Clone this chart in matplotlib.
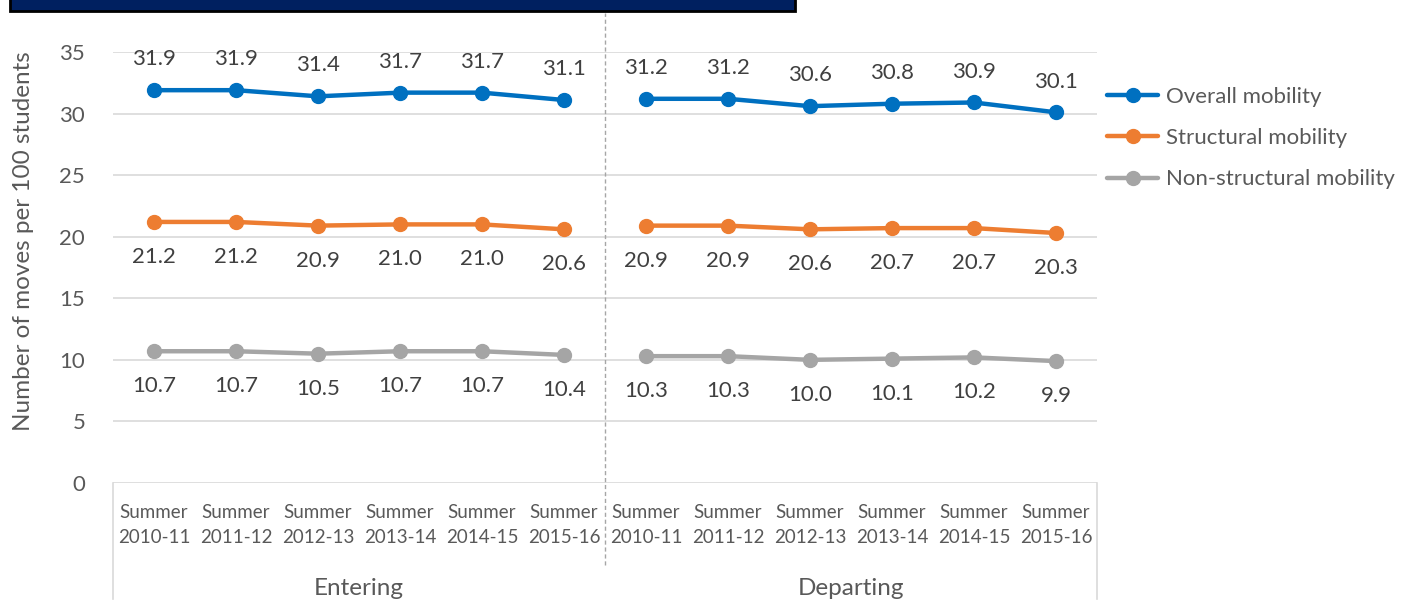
import numpy as np
import matplotlib.pyplot as plt
from matplotlib.patches import Rectangle

periods = ['Summer\n2010-11', 'Summer\n2011-12', 'Summer\n2012-13',
           'Summer\n2013-14', 'Summer\n2014-15', 'Summer\n2015-16']
groups = ['Entering', 'Departing']
labels = periods + periods

overall = [31.9, 31.9, 31.4, 31.7, 31.7, 31.1, 31.2, 31.2, 30.6, 30.8, 30.9, 30.1]
structural = [21.2, 21.2, 20.9, 21.0, 21.0, 20.6, 20.9, 20.9, 20.6, 20.7, 20.7, 20.3]
non_structural = [10.7, 10.7, 10.5, 10.7, 10.7, 10.4, 10.3, 10.3, 10.0, 10.1, 10.2, 9.9]

series = [('Overall mobility', overall, '#0070C0', 11),
          ('Structural mobility', structural, '#ED7D31', -14),
          ('Non-structural mobility', non_structural, '#A5A5A5', -14)]

txt = '#595959'
plt.rcParams['font.family'] = ['Lato', 'DejaVu Sans']

fig = plt.figure(figsize=(14.07, 6), dpi=100)
ax = fig.add_axes([113 / 1407, 1 - 483 / 600, 984 / 1407, 431 / 600])

x = np.arange(len(labels))
for name, vals, col, off in series:
    # draw the two groups as separate line pieces
    for g in range(2):
        sl = slice(g * 6, g * 6 + 6)
        ax.plot(x[sl], vals[sl], color=col, lw=3.2, marker='o', ms=10,
                label=name if g == 0 else None, solid_capstyle='round')
    for xi, v in zip(x, vals):
        va = 'bottom' if off > 0 else 'top'
        ax.annotate(f'{v:.1f}', (xi, v), xytext=(0, off + (4 if off > 0 else -4)),
                    textcoords='offset points', ha='center', va=va,
                    fontsize=16, color='#404040')

ax.set_xlim(-0.5, 11.5)
ax.set_ylim(0, 35)
ax.set_yticks(np.arange(0, 36, 5))
ax.tick_params(axis='y', length=0, labelsize=16, labelcolor=txt, pad=20)
ax.set_xticks(x)
ax.set_xticklabels(labels, fontsize=13.5, color=txt, linespacing=1.55)
ax.tick_params(axis='x', length=0, pad=15)
ax.grid(axis='y', color='#D9D9D9', lw=1.2)
ax.set_axisbelow(True)
for s in ax.spines.values():
    s.set_visible(False)
ax.set_ylabel('Number of moves per 100 students', fontsize=17.5, color=txt)
ax.yaxis.set_label_coords(-0.080, 0.561)

# group axis lines
trans = ax.get_xaxis_transform()
ax.plot([-0.5, -0.5], [0, -0.27], color='#D9D9D9', lw=1.2, transform=trans, clip_on=False)
ax.plot([11.5, 11.5], [0, -0.27], color='#D9D9D9', lw=1.2, transform=trans, clip_on=False)
ax.plot([5.5, 5.5], [-0.19, 1.09], color='#A6A6A6', lw=1, ls=(0, (3, 2)),
        transform=trans, clip_on=False)
for g, name in enumerate(groups):
    ax.text(g * 6 + 2.5, -0.245, name, transform=trans, ha='center', va='center',
            fontsize=17.5, color=txt)

leg = ax.legend(loc='upper left', bbox_to_anchor=(0.99, 0.965), frameon=False,
                fontsize=16, labelcolor=txt, handlelength=2.3, handletextpad=0.35,
                labelspacing=0.95)

# banner at top
fig.patches.append(Rectangle((10 / 1407, 1 - 11 / 600), 785 / 1407, 0.03,
                             transform=fig.transFigure, facecolor='#002060',
                             edgecolor='black', lw=2))

fig.savefig('out.png', dpi=100)
